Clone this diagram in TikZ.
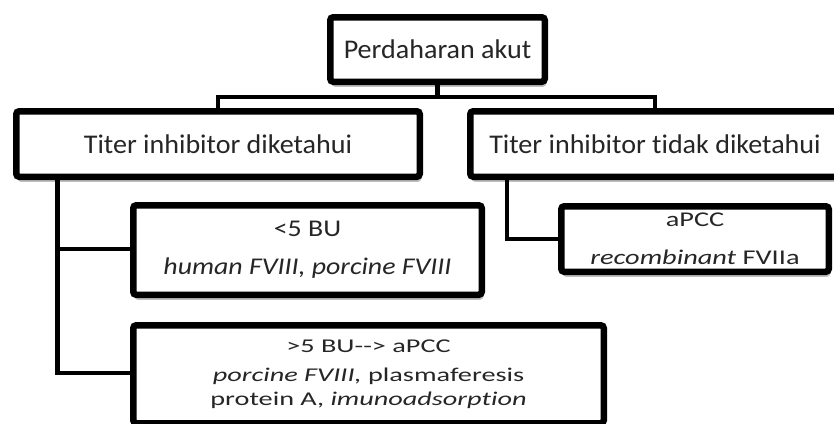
\documentclass[tikz,border=0pt]{standalone}
\usepackage{fontspec}
\setmainfont{Carlito}[Ligatures=NoCommon]
\newfontfamily\wideA{Carlito}[FakeStretch=1.04, Ligatures=NoCommon]
\newfontfamily\wideB{Carlito}[FakeStretch=1.16, Ligatures=NoCommon]
\newfontfamily\wideC{Carlito}[FakeStretch=1.35, Ligatures=NoCommon]
\newfontfamily\wideD{Carlito}[FakeStretch=1.45, Ligatures=NoCommon]
\usepackage{tikz}
\usetikzlibrary{shadows}

\begin{document}
\begin{tikzpicture}[
  x=1pt, y=-1pt,
  box/.style={
      draw=black,
      line width=6.5pt,
      rounded corners=3pt,
      fill=white,
      text=black!85,
      align=center,
      inner sep=0pt,
      drop shadow={shadow xshift=1.5pt, shadow yshift=-5pt, opacity=0.25, fill=black}
  },
  head/.style={
      box,
      font=\wideA\fontsize{27}{32}\selectfont
  },
  conn/.style={
      line width=4.5pt
  }
]
\useasboundingbox (0,0) rectangle (834,423);
\clip (0,0) rectangle (834,423);

\node[head, minimum width=214.5pt, minimum height=64.5pt] (acute) at (437.5,49.5)
{Perdaharan akut};

\node[head, minimum width=403.5pt, minimum height=65.5pt] (known) at (218,144)
{Titer inhibitor diketahui};

\node[head, minimum width=369.5pt, minimum height=65.5pt] (unknown) at (655,144)
{Titer inhibitor tidak diketahui};

\node[box, font=\wideB\fontsize{24}{29}\selectfont,
  minimum width=348.5pt, minimum height=89.5pt] (low) at (307.5,250)
{<5 BU\\[9pt]
\textit{human FVIII, porcine FVIII}};

\node[box, font=\wideD\fontsize{19.5}{23.5}\selectfont,
  minimum width=470.5pt, minimum height=98pt] (high) at (368.5,374.25)
{>5 BU-\kern0pt-> aPCC\\[5.5pt]
\textit{porcine FVIII,} plasmaferesis\\
protein A, \textit{imunoadsorption}};

\node[box, font=\wideC\fontsize{21}{25}\selectfont,
  minimum width=267.5pt, minimum height=65.5pt] (rfa) at (695,239)
{aPCC\\[13pt]
\textit{recombinant} FVIIa};

\coordinate (bar) at ([yshift=-12pt]acute.south);

\draw[conn] (acute.south) -- (bar);
\draw[conn] (known.north) |- (bar) -| (unknown.north);

\draw[conn] ([xshift=44.5pt]known.south west) |- ([yshift=1pt]low.west);
\draw[conn] ([xshift=44.5pt]known.south west) |- ([yshift=1.25pt]high.west);

\draw[conn] ([xshift=40pt]unknown.south west) |- (rfa.west);

\end{tikzpicture}
\end{document}
